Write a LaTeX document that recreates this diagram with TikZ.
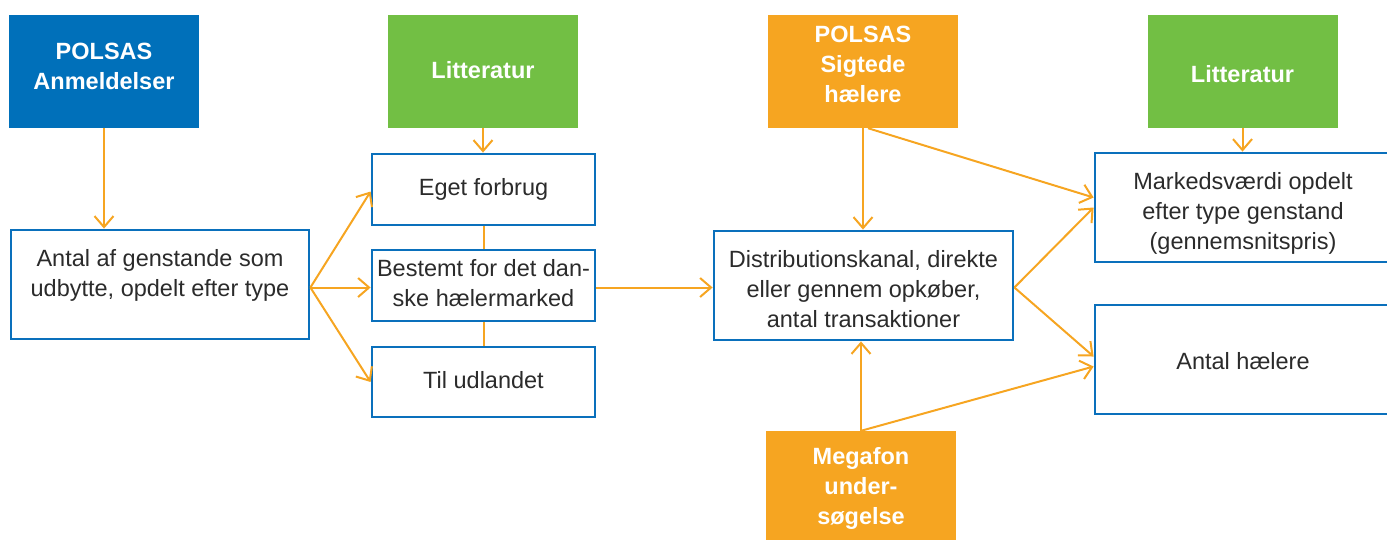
\documentclass[tikz,border=0pt]{standalone}
\usepackage{fontspec}
\setmainfont{Liberation Sans}
\usetikzlibrary{arrows.meta,calc}
\definecolor{pblue}{HTML}{0070BA}
\definecolor{pgreen}{HTML}{72BF44}
\definecolor{porange}{HTML}{F6A521}
\definecolor{pline}{HTML}{0A70BC}
\definecolor{ptext}{HTML}{2B2B2B}
\newcommand{\mytxt}[2]{\raisebox{#1}[\height][\depth]{\begin{tabular}{@{}c@{}}#2\end{tabular}}}
\begin{document}
\begin{tikzpicture}[x=1pt,y=-1pt,
  src/.style={minimum width=190pt, minimum height=113pt, inner sep=0pt, text=white, font=\fontsize{23.5}{30}\selectfont\bfseries},
  wbox/.style={draw=pline, line width=2.8pt, fill=white, inner sep=0pt, text=ptext, font=\fontsize{23.5}{30}\selectfont},
  conn/.style={draw=porange, line width=2pt},
  arr/.style={conn, -{Straight Barb[length=11pt,width=19pt]}}
]
\useasboundingbox (0,0) rectangle (1387,539);
\clip (0,0) rectangle (1387,539);

\node[src, fill=pblue] (A) at (104,71.5) {\mytxt{3pt}{POLSAS\\Anmeldelser}};
\node[src, fill=pgreen] (L1) at (483,71.5) {\mytxt{-1pt}{Litteratur}};
\node[src, fill=porange] (S) at (863,71.5) {\mytxt{5pt}{POLSAS\\Sigtede\\hælere}};
\node[src, fill=pgreen] (L2) at (1242.5,71.5) {\mytxt{-4.5pt}{Litteratur}};
\node[src, fill=porange, minimum height=110pt] (G) at (861,486) {\mytxt{-2pt}{Megafon\\under-\\søgelse}};

\node[wbox, minimum width=298pt, minimum height=109pt] (B) at (160,284.5) {\mytxt{9pt}{Antal af genstande som\\udbytte, opdelt efter type}};
\node[wbox, minimum width=223pt, minimum height=71pt] (E) at (483.5,189.5) {\mytxt{0pt}{Eget forbrug}};
\node[wbox, minimum width=223pt, minimum height=71pt] (M) at (483.5,285.5) {\mytxt{0pt}{Bestemt for det dan-\\ske hælermarked}};
\node[wbox, minimum width=223pt, minimum height=70pt] (T) at (483.5,382) {\mytxt{0pt}{Til udlandet}};
\node[wbox, minimum width=299pt, minimum height=109pt] (D) at (863.5,285.5) {\mytxt{-6pt}{Distributionskanal, direkte\\eller gennem opkøber,\\antal transaktioner}};
\node[wbox, minimum width=296pt, minimum height=109pt] (V) at (1243,207.5) {\mytxt{-5.5pt}{Markedsværdi opdelt\\efter type genstand\\(gennemsnitspris)}};
\node[wbox, minimum width=296pt, minimum height=109pt] (H) at (1243,359.5) {\mytxt{-4pt}{Antal hælere}};

\draw[arr] (A.south) -- (A.south |- B.north);
\draw[arr] ([yshift=-3pt]B.east) -- ([yshift=-2pt]E.west);
\draw[arr] ([yshift=-3pt]B.east) -- ([yshift=-2pt]M.west);
\draw[arr] ([yshift=-3pt]B.east) -- (T.west);
\draw[arr] (L1.south) -- (L1.south |- E.north);
\draw[conn] (E.south) -- (M.north);
\draw[conn] (M.south) -- (T.north);
\draw[arr] ([yshift=-2pt]M.east) -- ([yshift=-2pt]M.east -| D.west);
\draw[arr] (S.south) -- (S.south |- D.north);
\draw[arr] ([xshift=5pt]S.south) -- ([yshift=10pt]V.west);
\draw[arr] ([yshift=-2pt]D.east) -- (V.west);
\draw[arr] ([yshift=-2pt]D.east) -- ([yshift=3pt]H.west);
\draw[arr] (G.north) -- (G.north |- D.south);
\draw[arr] (G.north) -- ([yshift=-7pt]H.west);
\draw[arr] (L2.south) -- (L2.south |- V.north);
\end{tikzpicture}
\end{document}
